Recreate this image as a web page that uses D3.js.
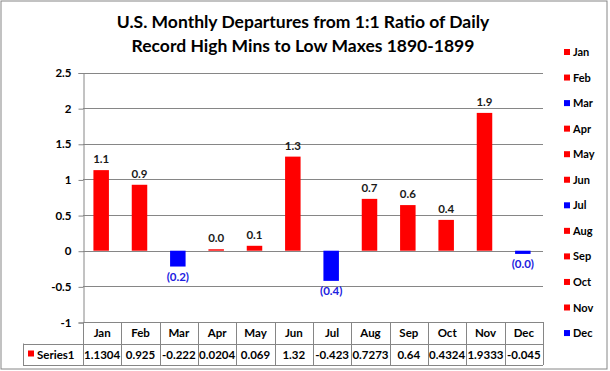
<!DOCTYPE html>
<html>
<head>
<meta charset="utf-8">
<script src="https://cdn.jsdelivr.net/npm/d3@7"></script>
<style>
  body { margin: 0; background: #fff; }
  svg text { font-family: Lato, "Open Sans", sans-serif; font-weight: bold; }
</style>
</head>
<body>
<div id="chart"></div>
<script>
// data
const months = ["Jan", "Feb", "Mar", "Apr", "May", "Jun", "Jul", "Aug", "Sep", "Oct", "Nov", "Dec"];
const values = [1.1304, 0.925, -0.222, 0.0204, 0.069, 1.32, -0.423, 0.7273, 0.64, 0.4324, 1.9333, -0.045];
const yTicks = [-1, -0.5, 0, 0.5, 1, 1.5, 2, 2.5];
const seriesName = "Series1";
const titleLines = ["U.S. Monthly Departures from 1:1 Ratio of Daily", "Record High Mins to Low Maxes 1890-1899"];

const width = 610, height = 371;
const plot = { left: 83, right: 543, top: 72.5, bottom: 322 };
const rowH = 21.5;

const svg = d3.select("#chart").append("svg")
  .attr("width", width)
  .attr("height", height);

// outer frame
svg.append("rect")
  .attr("x", 1).attr("y", 1)
  .attr("width", width - 4).attr("height", height - 3)
  .attr("fill", "#fff").attr("stroke", "#868686");

const x = d3.scaleBand().domain(months).range([plot.left, plot.right]);
const y = d3.scaleLinear().domain([-1, 2.5]).range([plot.bottom, plot.top]);

const col = d => d < 0 ? "#0000ff" : "#ff0000";

// title
svg.append("g").selectAll("text")
  .data(titleLines)
  .enter().append("text")
  .attr("x", 303)
  .attr("y", (d, i) => 28 + i * 24)
  .attr("text-anchor", "middle")
  .attr("font-size", 17.5)
  .attr("fill", "#000")
  .text(d => d);

// gridlines
svg.append("g").selectAll("line")
  .data(yTicks)
  .enter().append("line")
  .attr("x1", plot.left).attr("x2", plot.right)
  .attr("y1", d => Math.round(y(d)) + 0.5).attr("y2", d => Math.round(y(d)) + 0.5)
  .attr("stroke", "#868686");

// y axis
const yAxis = d3.axisLeft(y).tickValues(yTicks).tickSize(5).tickPadding(7)
  .tickFormat(d => d);
const ya = svg.append("g")
  .attr("transform", "translate(" + (plot.left + 0.5) + ",0.5)")
  .call(yAxis);
ya.select(".domain").attr("stroke", "#868686");
ya.selectAll(".tick line").attr("stroke", "#868686");
ya.selectAll(".tick text").attr("font-size", 11.5).attr("fill", "#000");

// bars
const barW = 15.5;
svg.append("g").selectAll("rect")
  .data(values)
  .enter().append("rect")
  .attr("x", (d, i) => x(months[i]) + x.bandwidth() / 2 - barW / 2 - 1)
  .attr("width", barW)
  .attr("y", d => y(Math.max(0, d)))
  .attr("height", d => Math.abs(y(d) - y(0)))
  .attr("fill", col);

// value labels
const fmt = d3.format(".1f");
svg.append("g").selectAll("text")
  .data(values)
  .enter().append("text")
  .attr("x", (d, i) => x(months[i]) + x.bandwidth() / 2 - 1)
  .attr("y", d => d < 0 ? y(d) + 14 : y(d) - 7)
  .attr("text-anchor", "middle")
  .attr("font-size", 11.5)
  .attr("fill", d => d < 0 ? "#2020e0" : "#1a1a1a")
  .text(d => d < 0 ? "(" + fmt(-d) + ")" : fmt(d));

// data table
const table = svg.append("g");
const tblLeft = 23;
const r1 = plot.bottom, r2 = plot.bottom + rowH, r3 = plot.bottom + 2 * rowH;
const hl = [[plot.left, plot.right, r1], [tblLeft, plot.right, r2], [tblLeft, plot.right, r3]];
table.selectAll("line.h")
  .data(hl)
  .enter().append("line")
  .attr("x1", d => d[0]).attr("x2", d => d[1])
  .attr("y1", d => Math.round(d[2]) + 0.5).attr("y2", d => Math.round(d[2]) + 0.5)
  .attr("stroke", "#868686");
const vx = months.map(m => x(m)).concat([plot.right]);
table.selectAll("line.v")
  .data(vx)
  .enter().append("line")
  .attr("x1", d => Math.round(d) + 0.5).attr("x2", d => Math.round(d) + 0.5)
  .attr("y1", r1).attr("y2", r3)
  .attr("stroke", "#868686");
table.append("line")
  .attr("x1", tblLeft + 0.5).attr("x2", tblLeft + 0.5)
  .attr("y1", r2).attr("y2", r3)
  .attr("stroke", "#868686");

table.selectAll("text.m")
  .data(months)
  .enter().append("text")
  .attr("x", d => x(d) + x.bandwidth() / 2)
  .attr("y", r1 + 15)
  .attr("text-anchor", "middle")
  .attr("font-size", 11.5)
  .attr("fill", "#000")
  .text(d => d);

table.selectAll("text.v")
  .data(values)
  .enter().append("text")
  .attr("x", (d, i) => x(months[i]) + x.bandwidth() / 2)
  .attr("y", r2 + 15)
  .attr("text-anchor", "middle")
  .attr("font-size", 11.5)
  .attr("fill", "#000")
  .text(d => String(d));

table.append("rect")
  .attr("x", 28).attr("y", r2 + 7)
  .attr("width", 6).attr("height", 6)
  .attr("fill", "#ff0000");
table.append("text")
  .attr("x", 37).attr("y", r2 + 15)
  .attr("font-size", 11.5)
  .attr("fill", "#000")
  .text(seriesName);

// legend
const leg = svg.append("g").selectAll("g")
  .data(months)
  .enter().append("g")
  .attr("transform", (d, i) => "translate(564," + (53 + i * 25.55) + ")");
leg.append("rect")
  .attr("x", 0).attr("y", -4)
  .attr("width", 6).attr("height", 6)
  .attr("fill", (d, i) => col(values[i]));
leg.append("text")
  .attr("x", 9).attr("y", 3)
  .attr("font-size", 11)
  .attr("fill", "#000")
  .text(d => d);
</script>
</body>
</html>
